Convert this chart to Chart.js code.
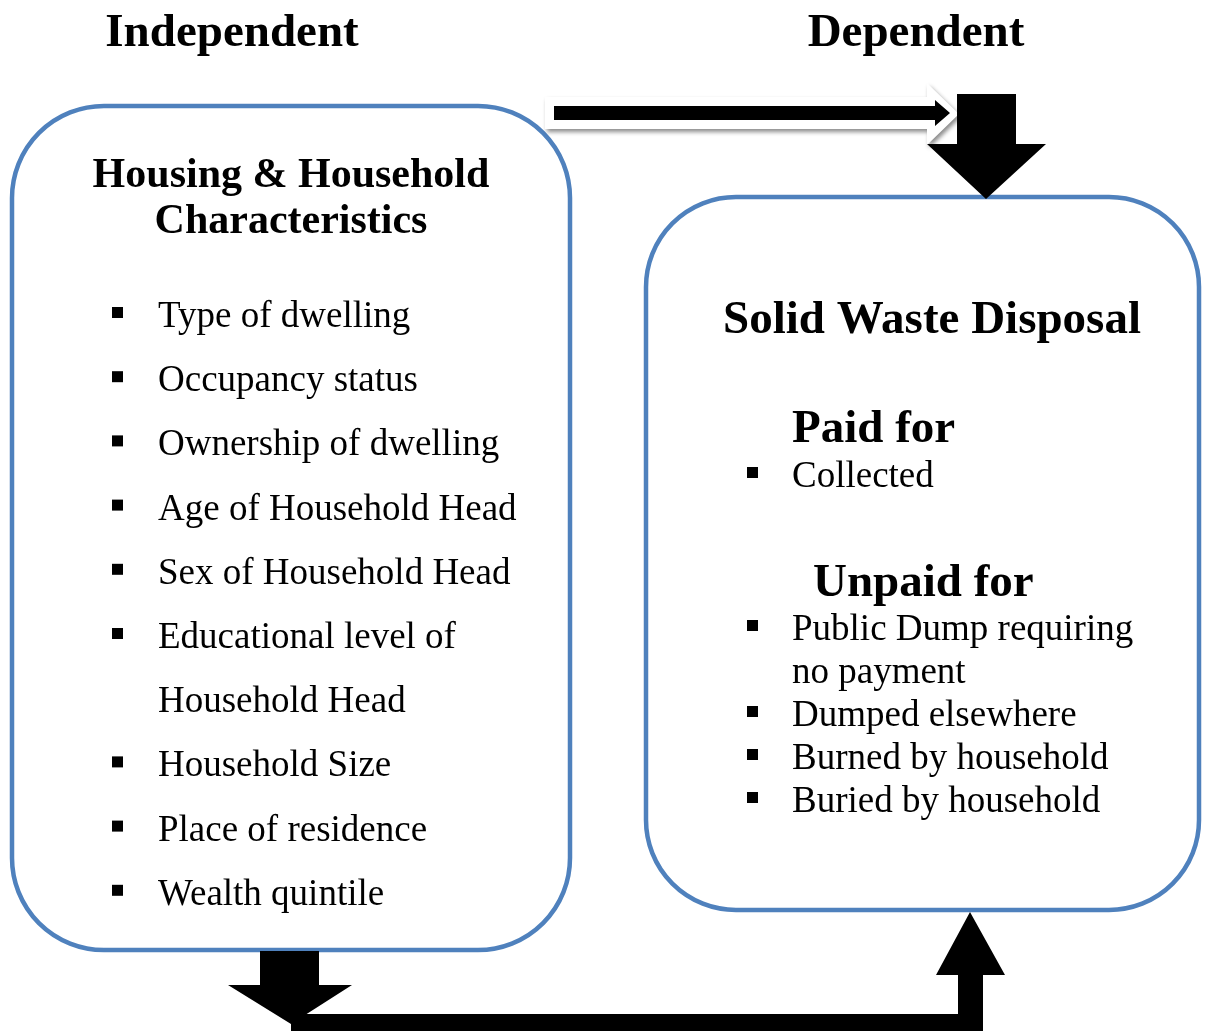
<!DOCTYPE html>
<html>
<head>
<meta charset="utf-8">
<script src="https://cdn.jsdelivr.net/npm/chart.js@4"></script>
<style>
  html, body { margin: 0; padding: 0; background: #fff; }
  canvas { display: block; }
</style>
</head>
<body>
<canvas id="diagram" width="1206" height="1031"></canvas>
<script>
(() => {
    "use strict";

    // Diagram texts
    const headings = ["Independent", "Dependent"];
    const leftTitle = ["Housing & Household", "Characteristics"];
    const leftItems = [
        ["Type of dwelling"],
        ["Occupancy status"],
        ["Ownership of dwelling"],
        ["Age of Household Head"],
        ["Sex of Household Head"],
        ["Educational level of", "Household Head"],
        ["Household Size"],
        ["Place of residence"],
        ["Wealth quintile"]
    ];
    const rightTitle = "Solid Waste Disposal";
    const paidTitle = "Paid for";
    const paidItems = [["Collected"]];
    const unpaidTitle = "Unpaid for";
    const unpaidItems = [
        ["Public Dump requiring", "no payment"],
        ["Dumped elsewhere"],
        ["Burned by household"],
        ["Buried by household"]
    ];

    const BLUE = "#4f81bd";
    const SERIF = "'Liberation Serif', 'Times New Roman', serif";

    const diagram = {
        id: "diagram",
        afterDraw(chart) {
            const c = chart.ctx;
            const sx = chart.scales.x;
            const sy = chart.scales.y;
            const X = v => sx.getPixelForValue(v);
            const Y = v => sy.getPixelForValue(v);

            const roundBox = (x0, y0, x1, y1, r) => {
                c.beginPath();
                c.moveTo(X(x0 + r), Y(y0));
                c.arcTo(X(x1), Y(y0), X(x1), Y(y1), r);
                c.arcTo(X(x1), Y(y1), X(x0), Y(y1), r);
                c.arcTo(X(x0), Y(y1), X(x0), Y(y0), r);
                c.arcTo(X(x0), Y(y0), X(x1), Y(y0), r);
                c.closePath();
                c.lineWidth = 4.5;
                c.strokeStyle = BLUE;
                c.stroke();
            };

            const poly = (pts, fill) => {
                c.beginPath();
                pts.forEach(([px, py], i) => i ? c.lineTo(X(px), Y(py)) : c.moveTo(X(px), Y(py)));
                c.closePath();
                c.fillStyle = fill;
                c.fill();
            };

            const text = (str, x, y, size, bold, align) => {
                c.font = (bold ? "bold " : "") + size + "px " + SERIF;
                c.textAlign = align || "left";
                c.textBaseline = "alphabetic";
                c.fillStyle = "#000";
                c.fillText(str, X(x), Y(y));
            };

            const bulletList = (items, xb, xt, y0, step, size) => {
                let y = y0;
                items.forEach(lines => {
                    c.fillStyle = "#000";
                    c.fillRect(X(xb), Y(y - 20), 11, 11);
                    lines.forEach(line => {
                        text(line, xt, y, size, false);
                        y += step;
                    });
                });
            };

            c.save();

            // boxes
            roundBox(12, 106, 570, 950, 92);
            roundBox(646, 197, 1199, 910, 90);

            // headings
            text(headings[0], 232, 46, 47, true, "center");
            text(headings[1], 916, 46, 47, true, "center");

            // left box
            text(leftTitle[0], 291, 187, 42, true, "center");
            text(leftTitle[1], 291, 233, 42, true, "center");
            bulletList(leftItems, 112, 158, 327, 64.2, 37);

            // right box
            text(rightTitle, 932, 333, 47, true, "center");
            text(paidTitle, 792, 442, 47, true);
            bulletList(paidItems, 747, 792, 487, 43, 37);
            text(unpaidTitle, 813, 596, 47, true);
            bulletList(unpaidItems, 747, 792, 640, 43, 37);

            // top arrow: white outlined with shadow
            c.save();
            c.shadowColor = "rgba(0,0,0,0.45)";
            c.shadowBlur = 4;
            c.shadowOffsetX = 2;
            c.shadowOffsetY = 3;
            poly([[545, 97], [927, 97], [927, 83], [959, 114], [927, 145], [927, 129], [545, 129]], "#fff");
            c.restore();
            poly([[554, 106], [935, 106], [935, 100], [950, 113], [935, 126], [935, 120], [554, 120]], "#000");

            // down arrow into right box
            poly([[957, 94], [1016, 94], [1016, 144], [1046, 144], [986, 199], [927, 144], [957, 144]], "#000");

            // down arrow from left box
            poly([[260, 951], [319, 951], [319, 985], [352, 985], [291, 1024], [228, 985], [260, 985]], "#000");

            // bottom connector and up arrow into right box
            poly([[291, 1014], [958, 1014], [958, 975], [936, 975], [970, 912], [1005, 975], [983, 975], [983, 1031], [291, 1031]], "#000");

            c.restore();
        }
    };

    const ctx = document.getElementById("diagram").getContext("2d");
    // eslint-disable-next-line no-unused-vars
    const chart = new Chart(ctx, {
        type: "scatter",
        data: { datasets: [{ data: [] }] },
        options: {
            responsive: false,
            animation: false,
            events: [],
            layout: { padding: 0 },
            plugins: { legend: { display: false }, tooltip: { enabled: false } },
            scales: {
                x: { type: "linear", min: 0, max: 1206, display: false },
                y: { type: "linear", min: 0, max: 1031, reverse: true, display: false }
            }
        },
        plugins: [diagram]
    });
})();
</script>
</body>
</html>
